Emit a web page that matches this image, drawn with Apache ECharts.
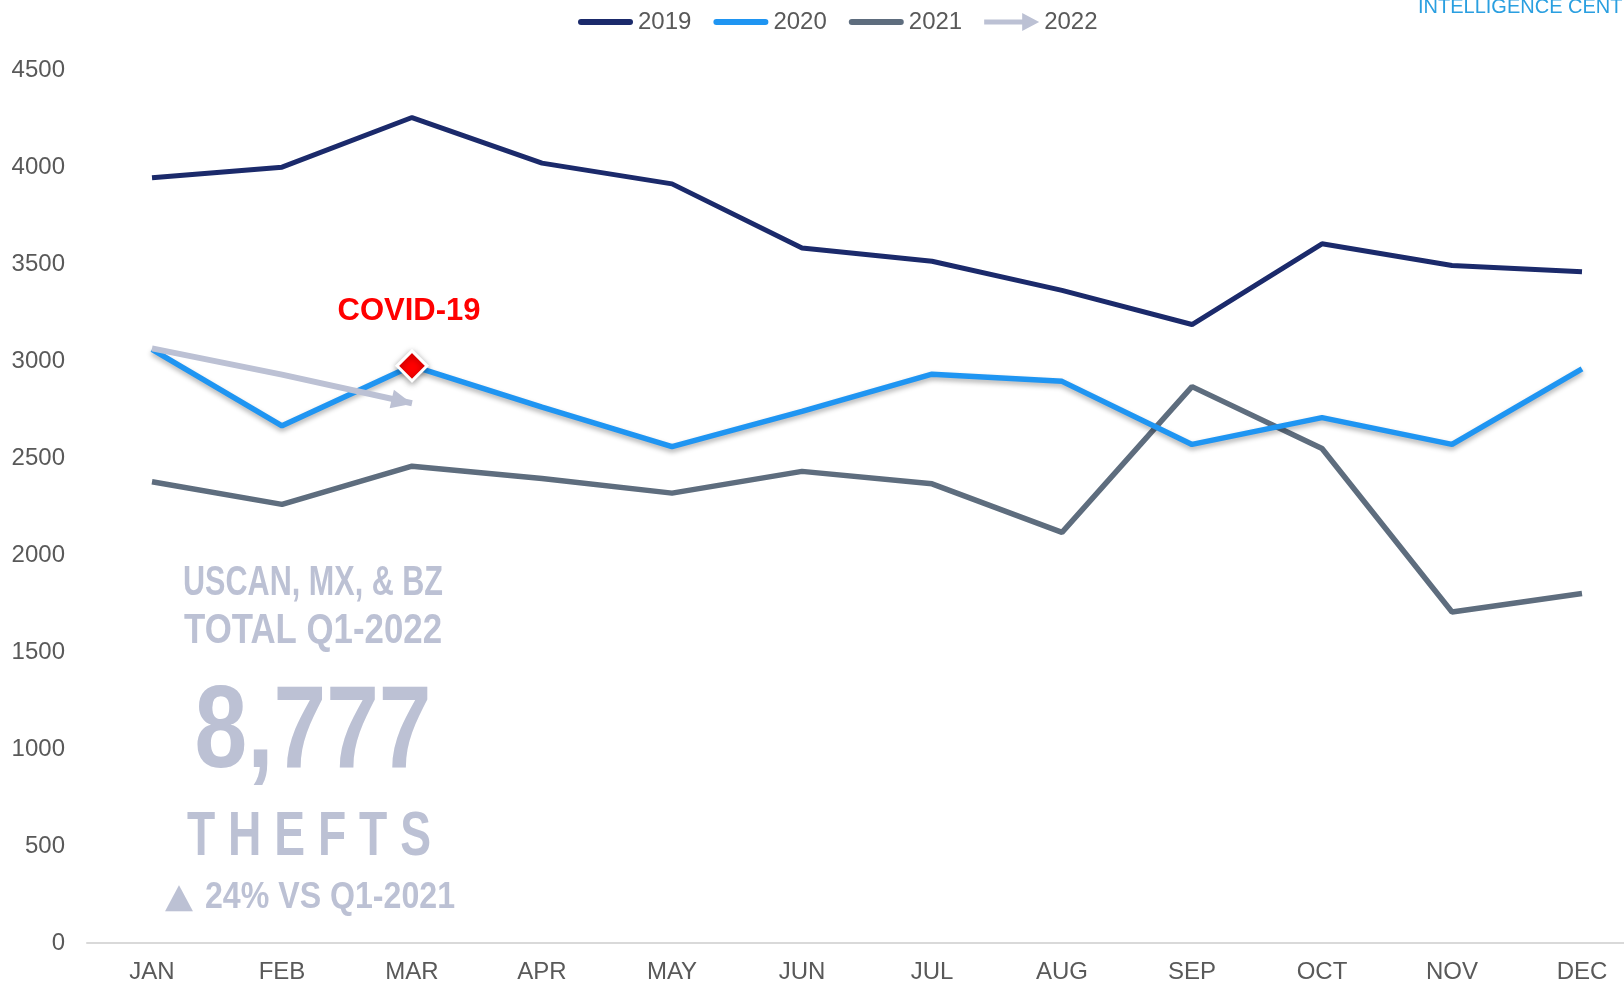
<!DOCTYPE html>
<html><head><meta charset="utf-8">
<script src="https://cdn.jsdelivr.net/npm/echarts@6/dist/echarts.min.js"></script>
<style>html,body{margin:0;padding:0;background:#fff;overflow:hidden}#c{width:1624px;height:982px}</style>
</head><body><div id="c"></div>
<script>
// ---- data ----
const months = ['JAN','FEB','MAR','APR','MAY','JUN','JUL','AUG','SEP','OCT','NOV','DEC'];
const v2019 = [3945, 3999, 4255, 4020, 3913, 3583, 3514, 3364, 3188, 3604, 3492, 3460];
const v2020 = [3060, 2666, 2975, 2762, 2559, 2740, 2932, 2895, 2570, 2708, 2570, 2959];
const v2021 = [2378, 2261, 2458, 2394, 2319, 2431, 2367, 2117, 2868, 2549, 1706, 1802];
const v2022 = [3065, 2930, 2782];
const seriesNames = ['2019', '2020', '2021', '2022'];
const covidIndex = 2;
const covidLabel = 'COVID-19';
const yTicks = [0, 500, 1000, 1500, 2000, 2500, 3000, 3500, 4000, 4500];
const q1Total = v2022.reduce((a, b) => a + b, 0);
const summaryLines = ['USCAN, MX, & BZ', 'TOTAL Q1-2022', q1Total.toLocaleString('en-US'), 'THEFTS', '\u25B2', '24% VS Q1-2021'];
const cornerText = 'INTELLIGENCE CENTER';

// ---- styles ----
const C19 = '#1b2a6b', C20 = '#1f95f2', C21 = '#5e6d7e', C22 = '#bcc1d4';
const FONT = 'Liberation Sans';
const lineIcon = 'path://M3,0 L52,0 A3,3 0 0 1 52,6 L3,6 A3,3 0 0 1 3,0 Z';
const arrowIcon = 'path://M0,6.5 L38,6.5 L38,0 L55,9 L38,18 L38,11.5 L0,11.5 Z';

const mctx = document.createElement('canvas').getContext('2d');
function fitText(text, size, target, x, y, family, weight) {
  family = family || FONT; weight = weight || 'bold';
  mctx.font = weight + ' ' + size + 'px "' + family + '"';
  const w = mctx.measureText(text).width;
  return {
    type: 'text', x: x, y: y, scaleX: target / w, z: 5,
    style: { text: text, fontSize: size, fontWeight: weight, fontFamily: family, fill: C22,
      align: 'center', verticalAlign: 'middle', textAlign: 'center', textVerticalAlign: 'middle' }
  };
}

const chart = echarts.init(document.getElementById('c'), null, { renderer: 'canvas' });

const data2020 = v2020.map((v, i) => i === covidIndex ? {
  value: v, symbol: 'diamond', symbolSize: 30,
  itemStyle: { color: '#ff0000', borderColor: '#ffffff', borderWidth: 3, shadowColor: 'rgba(0,0,0,0.35)', shadowBlur: 6, shadowOffsetY: 2 },
  label: { show: true, position: 'top', distance: 22, formatter: covidLabel, color: '#ff0000', fontSize: 31, fontWeight: 'bold', fontFamily: FONT, offset: [-3, 0] }
} : { value: v, symbol: 'none' });

const data2022 = v2022.map((v, i) => i === v2022.length - 1 ? {
  value: v, symbol: 'triangle', symbolSize: [19, 21], symbolRotate: -103, symbolOffset: [-10, -2],
  itemStyle: { color: C22 }
} : { value: v, symbol: 'none' });

chart.setOption({
  animation: false,
  backgroundColor: '#ffffff',
  grid: { left: 87, width: 1560, top: 70, bottom: 39, containLabel: false, outerBoundsMode: 'none' },
  legend: {
    left: 573, top: 5, itemWidth: 55, itemHeight: 18, itemGap: 22, selectedMode: false,
    textStyle: { fontSize: 24, color: '#595959', fontFamily: FONT },
    data: [
      { name: seriesNames[0], icon: lineIcon },
      { name: seriesNames[1], icon: lineIcon },
      { name: seriesNames[2], icon: lineIcon },
      { name: seriesNames[3], icon: arrowIcon }
    ]
  },
  xAxis: {
    type: 'category', data: months, boundaryGap: true,
    axisLine: { show: true, lineStyle: { color: '#d9d9d9', width: 2 } },
    axisTick: { show: false },
    axisLabel: { color: '#595959', fontSize: 24, fontFamily: FONT, margin: 17 },
    splitLine: { show: false }
  },
  yAxis: {
    type: 'value', min: yTicks[0], max: yTicks[yTicks.length - 1], interval: yTicks[1] - yTicks[0],
    axisLine: { show: false }, axisTick: { show: false }, splitLine: { show: false },
    axisLabel: { color: '#595959', fontSize: 24, fontFamily: FONT, margin: 22, formatter: v => String(v) }
  },
  series: [
    { name: seriesNames[0], type: 'line', data: v2019, symbol: 'none', color: C19,
      lineStyle: { color: C19, width: 5 }, z: 3 },
    { name: seriesNames[1], type: 'line', data: data2020, symbol: 'none', showSymbol: true, color: C20,
      lineStyle: { color: C20, width: 5.5, shadowColor: 'rgba(0,0,0,0.3)', shadowBlur: 5, shadowOffsetY: 3 }, z: 4 },
    { name: seriesNames[2], type: 'line', data: v2021, symbol: 'none', color: C21,
      lineStyle: { color: C21, width: 5.5 }, z: 3 },
    { name: seriesNames[3], type: 'line', data: data2022, symbol: 'none', showSymbol: true, color: C22,
      lineStyle: { color: C22, width: 6 }, z: 5 }
  ],
  graphic: [
    fitText(summaryLines[0], 43, 260, 313, 583),
    fitText(summaryLines[1], 43, 258, 313, 631),
    fitText(summaryLines[2], 116, 237, 313, 735),
    fitText(summaryLines[3].split('').join(' '), 63, 244, 309, 838),
    fitText(summaryLines[4], 34, 28, 179, 898, 'DejaVu Sans', 'normal'),
    fitText(summaryLines[5], 37, 250, 330, 898),
    { type: 'text', x: 1418, y: -3, z: 5,
      style: { text: cornerText, fontSize: 20, fontFamily: FONT, fill: '#2a9fe0',
        align: 'left', verticalAlign: 'top', textAlign: 'left', textVerticalAlign: 'top' } }
  ]
});
</script>
</body></html>
